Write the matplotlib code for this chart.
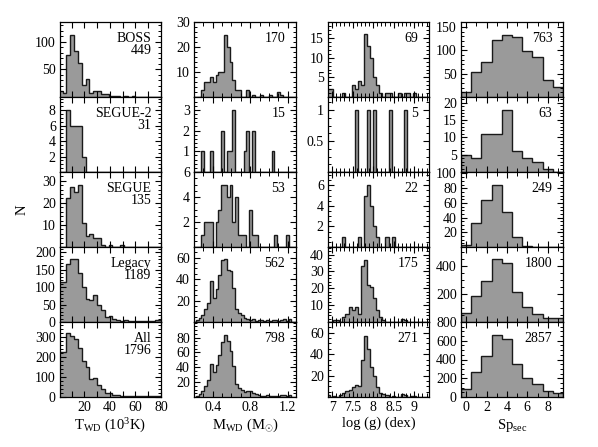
import numpy as np
import matplotlib
matplotlib.use('Agg')
import matplotlib.pyplot as plt
from matplotlib.ticker import FixedLocator, MultipleLocator, FuncFormatter

plt.rcParams['font.family'] = ['Liberation Serif', 'DejaVu Serif']
plt.rcParams['mathtext.fontset'] = 'custom'
plt.rcParams['mathtext.rm'] = 'Liberation Serif'
plt.rcParams['mathtext.it'] = 'Liberation Serif:italic'
plt.rcParams['mathtext.bf'] = 'Liberation Serif:bold'

# ---------------- data ----------------
samples = ["BOSS", "SEGUE-2", "SEGUE", "Legacy", "All"]
n_teff = [449, 31, 135, 1189, 1796]
n_mass = [170, 15, 53, 562, 798]
n_logg = [69, 5, 22, 175, 271]
n_spec = [763, 63, 249, 1800, 2857]

# T_WD histograms (10^3 K), bins of width 3 starting at 0
teff_start, teff_width = 0.0, 3.0
BOSS_T = [10, 8, 77, 113, 84, 62, 22, 32, 7, 10, 10, 5, 5, 1, 1, 2, 0, 1, 0, 2, 0, 0, 0, 0, 0, 0, 0]
SEGUE2_T = [0, 0, 8, 6, 6, 6, 2, 0, 0, 0, 0, 0, 0, 0, 0, 0, 0, 0, 0, 0, 0, 0, 0, 0, 0, 0, 0]
SEGUE_T = [0, 0, 22, 27, 25, 28, 11, 5, 6, 4, 4, 1, 0, 1, 0, 0, 1, 0, 0, 0, 0, 0, 0, 0, 0, 0, 0]
LEGACY_T = [115, 115, 167, 182, 180, 140, 100, 66, 63, 77, 48, 35, 14, 16, 10, 6, 4, 5, 3, 4, 3, 3, 2, 4, 3, 5, 7]
ALL_T = [225, 225, 318, 305, 290, 245, 180, 150, 90, 96, 60, 38, 22, 18, 12, 8, 6, 5, 4, 6, 4, 3, 3, 4, 4, 5, 7]

# M_WD histograms (Msun), bins of width 0.03 starting at 0.19
mass_start, mass_width = 0.19, 0.03
BOSS_M = [0, 0, 0, 3, 6, 6, 8, 6, 9, 10, 10, 25, 20, 14, 7, 3, 3, 0, 0, 3, 0, 1, 0, 0, 1, 0, 0, 1, 0, 0, 2, 1, 0, 0, 0, 0, 0]
SEGUE2_M = [0, 0, 0, 1, 0, 0, 1, 0, 0, 0, 2, 0, 1, 1, 3, 0, 0, 0, 1, 2, 0, 2, 0, 0, 0, 0, 0, 0, 1, 0, 0, 0, 0, 0, 0, 0, 0]
SEGUE_M = [0, 0, 0, 1, 2, 2, 2, 0, 2, 3, 5, 5, 4, 5, 2, 4, 1, 1, 1, 0, 3, 1, 1, 0, 0, 0, 0, 0, 0, 1, 0, 0, 0, 1, 0, 0, 0]
LEGACY_M = [0, 2, 4, 7, 12, 18, 38, 22, 31, 44, 58, 59, 49, 48, 32, 12, 8, 7, 4, 3, 2, 3, 1, 2, 2, 1, 2, 1, 2, 2, 1, 2, 3, 1, 3, 0, 0]
ALL_M = [0, 2, 4, 8, 15, 23, 44, 33, 43, 56, 74, 84, 76, 62, 42, 18, 12, 9, 7, 8, 8, 6, 4, 3, 2, 2, 3, 1, 2, 2, 2, 3, 3, 2, 3, 0, 0]

# log g histograms (dex), bins of width 0.075 starting at 6.875
logg_start, logg_width = 6.875, 0.075
BOSS_G = [2, 2, 0, 0, 0, 1, 0, 0, 3, 2, 4, 3, 16, 13, 10, 5, 3, 1, 0, 1, 1, 0, 0, 1, 0, 1, 1, 0, 1, 0, 0, 0, 0, 0]
SEGUE2_G = [0, 0, 0, 0, 0, 0, 0, 0, 0, 1, 0, 0, 0, 1, 0, 1, 0, 0, 0, 0, 1, 0, 0, 0, 0, 1, 0, 0, 0, 0, 0, 0, 0, 0]
SEGUE_G = [0, 0, 0, 0, 0, 1, 0, 0, 0, 0, 1, 0, 5, 6, 4, 2, 1, 0, 0, 1, 0, 1, 0, 0, 0, 0, 0, 0, 0, 0, 0, 0, 0, 0]
LEGACY_G = [0, 0, 1, 1, 0, 3, 5, 9, 7, 9, 5, 33, 37, 22, 21, 14, 7, 3, 1, 0, 0, 0, 0, 0, 2, 1, 0, 0, 0, 0, 0, 0, 0, 0]
ALL_G = [2, 0, 1, 0, 2, 4, 6, 7, 9, 11, 10, 35, 57, 45, 28, 20, 9, 4, 3, 2, 0, 1, 0, 0, 3, 2, 0, 1, 1, 0, 0, 0, 0, 0]

# secondary spectral type histograms, one bin per subtype 0..9
spec_types = [0, 1, 2, 3, 4, 5, 6, 7, 8, 9]
BOSS_S = [11, 54, 75, 122, 133, 129, 99, 86, 36, 21]
SEGUE2_S = [5, 4, 11, 11, 18, 6, 4, 3, 1, 0]
SEGUE_S = [3, 33, 64, 85, 48, 14, 2, 0, 0, 0]
LEGACY_S = [66, 183, 289, 447, 419, 214, 108, 54, 28, 28]
ALL_S = [82, 267, 434, 665, 615, 356, 207, 135, 61, 43]

teff_data = [BOSS_T, SEGUE2_T, SEGUE_T, LEGACY_T, ALL_T]
mass_data = [BOSS_M, SEGUE2_M, SEGUE_M, LEGACY_M, ALL_M]
logg_data = [BOSS_G, SEGUE2_G, SEGUE_G, LEGACY_G, ALL_G]
spec_data = [BOSS_S, SEGUE2_S, SEGUE_S, LEGACY_S, ALL_S]

# y tick labels per panel
teff_yticks = [[50, 100], [2, 4, 6, 8], [10, 20, 30], [0, 50, 100, 150, 200], [0, 100, 200, 300]]
mass_yticks = [[10, 20, 30], [1, 2, 3], [2, 4, 6], [20, 40, 60], [20, 40, 60, 80]]
logg_yticks = [[5, 10, 15], [0.5, 1], [2, 4, 6], [10, 20, 30, 40], [20, 40, 60]]
spec_yticks = [[50, 100, 150], [5, 10, 15, 20], [20, 40, 60, 80, 100], [200, 400], [0, 200, 400, 600, 800]]

# ---------------- layout ----------------
W, H = 598, 447
fig = plt.figure(figsize=(W / 100, H / 100), dpi=100)
col_left = [60, 194, 328, 461]
col_w = [101, 102, 101, 102]
row_top = [22, 97, 172, 247, 322]
row_h = 75

FILL = '#9a9a9a'
EDGE = '#1a1a1a'

teff_ylim = [136, 9.7, 34, 215, 375]
mass_ylim = [30, 3.62, 6.0, 70, 101]
logg_ylim = [19.1, 1.21, 7.3, 44.5, 70]
spec_ylim = [161, 21.6, 102, 535, 800]

xlims = [(1, 80), (0.2, 1.29), (6.9, 9.36), (-0.5, 9.5)]

def edges_for(start, width, n):
    return start + width * np.arange(n + 1)

fmt_g = FuncFormatter(lambda v, p: '%g' % v)

for c in range(4):
    for r in range(5):
        l = col_left[c]
        t = row_top[r]
        ax = fig.add_axes([l / W, 1 - (t + row_h) / H, col_w[c] / W, row_h / H])
        if c == 0:
            vals = teff_data[r]; e = edges_for(teff_start, teff_width, len(vals))
            ylim = teff_ylim[r]; yt = teff_yticks[r]; num = n_teff[r]
        elif c == 1:
            vals = mass_data[r]; e = edges_for(mass_start, mass_width, len(vals))
            ylim = mass_ylim[r]; yt = mass_yticks[r]; num = n_mass[r]
        elif c == 2:
            vals = logg_data[r]; e = edges_for(logg_start, logg_width, len(vals))
            ylim = logg_ylim[r]; yt = logg_yticks[r]; num = n_logg[r]
        else:
            vals = spec_data[r]
            e = np.concatenate([np.array(spec_types) - 0.5, [spec_types[-1] + 0.5]])
            ylim = spec_ylim[r]; yt = spec_yticks[r]; num = n_spec[r]

        ax.stairs(vals, e, fill=True, facecolor=FILL, edgecolor='none', linewidth=0)
        ax.stairs(vals, e, fill=False, baseline=0, color=EDGE, linewidth=1.0)

        ax.set_xlim(*xlims[c])
        ax.set_ylim(0, ylim)

        ax.yaxis.set_major_locator(FixedLocator(yt))
        ax.yaxis.set_major_formatter(fmt_g)
        step = yt[1] - yt[0] if len(yt) > 1 else yt[0]
        ax.yaxis.set_minor_locator(MultipleLocator(step / (5 if ('%g' % step)[0] in '15' else 4)))

        if c == 0:
            ax.xaxis.set_major_locator(FixedLocator([10, 20, 30, 40, 50, 60, 70, 80]))
            ax.xaxis.set_major_formatter(FuncFormatter(lambda v, p: '%d' % v if v % 20 == 0 else ''))
        elif c == 1:
            ax.xaxis.set_major_locator(FixedLocator([0.4, 0.8, 1.2]))
            ax.xaxis.set_major_formatter(fmt_g)
            ax.xaxis.set_minor_locator(MultipleLocator(0.1))
        elif c == 2:
            ax.xaxis.set_major_locator(FixedLocator([7, 7.5, 8, 8.5, 9]))
            ax.xaxis.set_major_formatter(fmt_g)
            ax.xaxis.set_minor_locator(MultipleLocator(0.1))
        else:
            ax.xaxis.set_major_locator(FixedLocator([0, 2, 4, 6, 8]))
            ax.xaxis.set_major_formatter(fmt_g)
            ax.xaxis.set_minor_locator(MultipleLocator(1))

        ax.tick_params(which='both', direction='in', top=True, right=True,
                       labelsize=10, colors='black', pad=3)
        ax.tick_params(which='major', length=4.5, width=0.8)
        ax.tick_params(which='minor', length=2.2, width=0.7)
        ax.tick_params(axis='x', which='minor', length=3.2)
        if r < 4:
            ax.tick_params(labelbottom=False)
        for s in ax.spines.values():
            s.set_linewidth(0.9)
            s.set_color('black')

        if c == 0:
            ax.text(0.905, 0.87, samples[r] + '\n' + str(num), transform=ax.transAxes,
                    ha='right', va='top', multialignment='right', linespacing=0.95, fontsize=10)
        else:
            ax.text(0.895, 0.87, str(num), transform=ax.transAxes, ha='right', va='top', fontsize=10)

        if r == 4:
            labels = [r'$\mathrm{T_{WD}}$ (10$^{3}$K)', r'$\mathrm{M_{WD}}$ (M$_{\odot}$)',
                      'log (g) (dex)', r'$\mathrm{Sp_{sec}}$']
            ax.set_xlabel(labels[c], fontsize=10.5, labelpad=2)

fig.text(22 / W, 1 - 210 / H, 'N', rotation=90, ha='center', va='center', fontsize=10.5)

fig.savefig('out.png', dpi=100)
